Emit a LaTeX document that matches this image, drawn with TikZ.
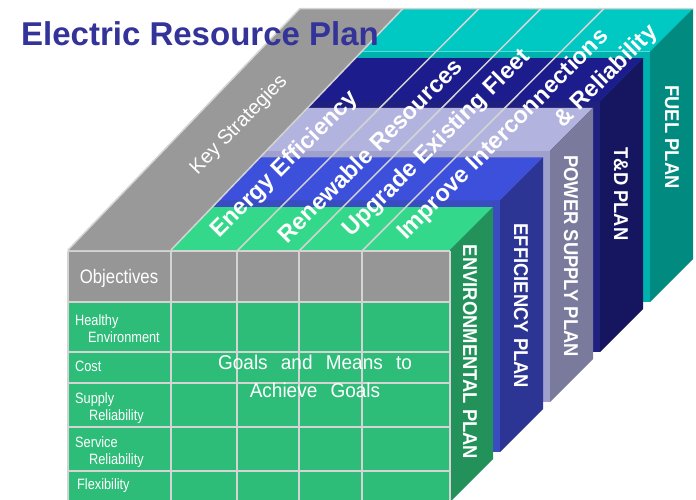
\documentclass[tikz,border=0pt]{standalone}
\usepackage{fontspec}
\setmainfont{Liberation Sans}
\newfontfamily\narrowfont[FakeStretch=0.85]{Liberation Sans}
\newfontfamily\objfont[FakeStretch=0.86]{Liberation Sans}
\newfontfamily\goalsfont[FakeStretch=0.95,WordSpace=2.5]{Liberation Sans}
\newfontfamily\planfont[FakeStretch=0.92]{Liberation Sans Bold}
\newfontfamily\boldfont{Liberation Sans Bold}
\definecolor{tealT}{HTML}{00C8C2}
\definecolor{tealF}{HTML}{00B2AE}
\definecolor{tealS}{HTML}{008A80}
\definecolor{navT}{HTML}{1C1C8C}
\definecolor{navF}{HTML}{20207E}
\definecolor{navS}{HTML}{161660}
\definecolor{lavT}{HTML}{B3B3DF}
\definecolor{lavF}{HTML}{A0A0CC}
\definecolor{lavS}{HTML}{7A7A9C}
\definecolor{bluT}{HTML}{3C50DC}
\definecolor{bluF}{HTML}{3A4CC0}
\definecolor{bluS}{HTML}{2C3494}
\definecolor{grnT}{HTML}{33D88A}
\definecolor{grnF}{HTML}{2DBD78}
\definecolor{grnS}{HTML}{22925A}
\definecolor{keygray}{HTML}{999999}
\definecolor{hdrgray}{HTML}{969696}
\definecolor{gridgray}{HTML}{D4D4D4}
\definecolor{titleblue}{HTML}{333399}
\tikzset{
  gridline/.style={draw=gridgray, line width=2pt},
  diagline/.style={draw=gridgray, line width=1.5pt},
  strat/.style={text=white, font=\boldfont\fontsize{23.5}{26}\selectfont, rotate=45, inner sep=0pt},
  keystrat/.style={text=white, font=\fontsize{20}{24}\selectfont, rotate=46, inner sep=0pt},
  plan/.style={text=white, font=\planfont\fontsize{20}{24}\selectfont, rotate=-90, inner sep=0pt},
  rowlabel/.style={text=white, font=\narrowfont\fontsize{15}{18}\selectfont, anchor=base west, inner sep=0pt},
  objlabel/.style={text=white, font=\objfont\fontsize{19.5}{22}\selectfont, anchor=base, inner sep=0pt},
  goals/.style={text=white, font=\goalsfont\fontsize{20}{24}\selectfont, anchor=base, inner sep=0pt},
  titlestyle/.style={text=titleblue, font=\boldfont\fontsize{33}{36}\selectfont, anchor=base west, inner sep=0pt},
}
\begin{document}
\begin{tikzpicture}[x=1pt,y=-1pt]
\useasboundingbox (0,0) rectangle (696,499);
\clip (0,0) rectangle (696,499);
% slabs, back to front
\foreach \k/\ct/\cf/\cs in {4/tealT/tealF/tealS,3/navT/navF/navS,2/lavT/lavF/lavS,1/bluT/bluF/bluS,0/grnT/grnF/grnS}{
  \pgfmathsetmacro\sL{68+50*\k}
  \pgfmathsetmacro\sR{450+50*\k}
  \pgfmathsetmacro\sT{250-49.6*\k}
  \pgfmathsetmacro\sB{502-50*\k}
  \fill[\cf] (\sL,\sT) rectangle (\sR,\sB);
  \fill[\ct] (\sL,\sT) -- (\sR,\sT) -- (\sR+43,\sT-43) -- (\sL+43,\sT-43) -- cycle;
  \fill[\cs] (\sR,\sT) -- (\sR+43,\sT-43) -- (\sR+43,\sB-43) -- (\sR,\sB) -- cycle;
}
% grid on the front face
\fill[hdrgray] (68,251) rectangle (450,302);
\foreach \x in {68,171,237,299,362,450} \draw[gridline] (\x,251) -- (\x,502);
\foreach \y in {251,302,352,383,427,471} \draw[gridline] (68,\y) -- (450,\y);
% key strategies column
\fill[keygray] (68,250) -- (171,250) -- (403,8.5) -- (300,8.5) -- cycle;
\draw[diagline] (68,250) -- (300,8.5) -- (693,8.5);
\draw[diagline] (171,250) -- (403,8.5);
\draw[diagline] (237,251) -- (479,8.5);
\draw[diagline] (299,251) -- (541,8.5);
\draw[diagline] (362,251) -- (604,8.5);
% strategy labels
\node[keystrat] (ks) at (239,125) {Key Strategies};
\node[strat] (ee) at (285,165) {Energy Efficiency};
\node[strat] (rr) at (370,150) {Renewable Resources};
\node[strat] (ue) at (437,143.5) {Upgrade Existing Fleet};
\node[strat] (ii) at (503.5,135) {Improve Interconnections};
\node[strat] (rel) at (606.5,76.5) {\& Reliability};
% plan labels
\node[plan] (env) at (470,352) {ENVIRONMENTAL PLAN};
\node[plan] (eff) at (521,306) {EFFICIENCY PLAN};
\node[plan] (pow) at (571,256) {POWER SUPPLY PLAN};
\node[plan] (td) at (621,194) {T\&D PLAN};
\node[plan] (fuel) at (672,137) {FUEL PLAN};
% objectives column
\node[objlabel] (obj) at (119,283) {Objectives};
\node[rowlabel] (r1a) at (75,325) {Healthy};
\node[rowlabel] (r1b) at (88,342) {Environment};
\node[rowlabel] (r2) at (75,371) {Cost};
\node[rowlabel] (r3a) at (75,403) {Supply};
\node[rowlabel] (r3b) at (89,420) {Reliability};
\node[rowlabel] (r4a) at (75,447) {Service};
\node[rowlabel] (r4b) at (89,464) {Reliability};
\node[rowlabel] (r5) at (77,489) {Flexibility};
% goals text
\node[goals] (g1) at (315,369) {Goals and Means to};
\node[goals] (g2) at (315,397) {Achieve Goals};
% title
\node[titlestyle] (title) at (21,45) {Electric Resource Plan};
\end{tikzpicture}
\end{document}
